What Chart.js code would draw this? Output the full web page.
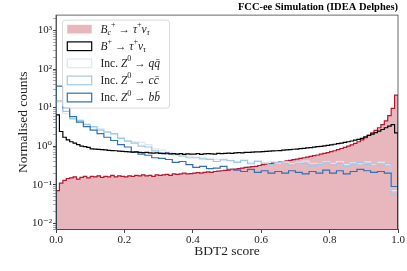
<!DOCTYPE html>
<html>
<head>
<meta charset="utf-8">
<script src="https://cdn.jsdelivr.net/npm/chart.js@4.4.0/dist/chart.umd.min.js"></script>
<style>
  body { margin: 0; background: #fff; }
  canvas { display: block; }
</style>
</head>
<body>
<canvas id="bdtChart" width="407" height="271"></canvas>
<script>
// BDT2 score histograms, normalised. Fine binning (0.01) for the two signal modes,
// coarse binning (0.02) for the inclusive Z0 samples.
const fineWidth = 0.01
const coarseWidth = 0.02

const bcTauNu = [
    0.07, 0.11, 0.13, 0.145, 0.15, 0.16, 0.14, 0.155, 0.165, 0.15,
    0.165, 0.16, 0.17, 0.155, 0.165, 0.16, 0.175, 0.16, 0.17, 0.165,
    0.16, 0.17, 0.165, 0.175, 0.17, 0.18, 0.17, 0.175, 0.165, 0.18,
    0.175, 0.18, 0.185, 0.175, 0.19, 0.185, 0.19, 0.2, 0.19, 0.195,
    0.2, 0.205, 0.2, 0.21, 0.215, 0.21, 0.22, 0.225, 0.23, 0.235,
    0.24, 0.25, 0.255, 0.26, 0.27, 0.28, 0.285, 0.295, 0.3, 0.315,
    0.33, 0.34, 0.35, 0.365, 0.375, 0.385, 0.4, 0.415, 0.43, 0.445,
    0.46, 0.48, 0.5, 0.52, 0.54, 0.57, 0.59, 0.62, 0.65, 0.68,
    0.72, 0.76, 0.81, 0.87, 0.93, 1.0, 1.08, 1.18, 1.3, 1.46,
    1.65, 1.9, 2.2, 2.55, 3.0, 3.6, 4.5, 6.2, 9.5, 21
]

const buTauNu = [
    6.5, 2.4, 1.7, 1.45, 1.3, 1.2, 1.1, 1.0, 0.97, 0.93,
    0.85, 0.84, 0.82, 0.81, 0.8, 0.78, 0.77, 0.76, 0.74, 0.73,
    0.72, 0.71, 0.7, 0.71, 0.69, 0.68, 0.69, 0.67, 0.66, 0.67,
    0.65, 0.64, 0.66, 0.63, 0.64, 0.62, 0.64, 0.61, 0.63, 0.62,
    0.62, 0.64, 0.61, 0.63, 0.64, 0.63, 0.62, 0.65, 0.64, 0.65,
    0.66, 0.65, 0.67, 0.68, 0.67, 0.69, 0.69, 0.7, 0.71, 0.71,
    0.72, 0.73, 0.74, 0.75, 0.76, 0.77, 0.79, 0.8, 0.81, 0.83,
    0.84, 0.86, 0.88, 0.9, 0.92, 0.94, 0.97, 0.99, 1.02, 1.05,
    1.08, 1.12, 1.16, 1.2, 1.25, 1.3, 1.36, 1.43, 1.5, 1.6,
    1.75, 1.9, 2.05, 2.25, 2.45, 2.7, 3.0, 3.3, 3.6, 2.2
]

const incZqq = [
    14, 7, 5, 4.8, 3.8, 3.0, 2.8, 2.4, 2.0, 1.7,
    1.4, 1.3, 1.25, 1.1, 0.85, 0.8, 0.7, 0.65, 0.62, 0.55,
    0.52, 0.5, 0.48, 0.45, 0.46, 0.43, 0.4, 0.44, 0.38, 0.42,
    0.37, 0.4, 0.36, 0.39, 0.35, 0.38, 0.41, 0.36, 0.34, 0.39,
    0.36, 0.4, 0.33, 0.37, 0.35, 0.39, 0.34, 0.38, 0.33, 0.07
]

const incZcc = [
    15, 8, 5.2, 4.6, 3.6, 3.2, 2.6, 2.3, 2.1, 1.6,
    1.35, 1.2, 1.0, 0.95, 0.75, 0.68, 0.62, 0.6, 0.55, 0.5,
    0.5, 0.47, 0.45, 0.4, 0.44, 0.42, 0.38, 0.42, 0.35, 0.4,
    0.36, 0.33, 0.38, 0.35, 0.32, 0.36, 0.34, 0.3, 0.33, 0.37,
    0.32, 0.35, 0.3, 0.34, 0.38, 0.33, 0.36, 0.31, 0.35, 0.055
]

const incZbb = [
    36, 10, 5.8, 4.2, 3.2, 2.6, 2.1, 1.7, 1.4, 1.1,
    0.95, 0.7, 0.62, 0.58, 0.5, 0.48, 0.45, 0.38, 0.4, 0.33,
    0.28, 0.3, 0.26, 0.27, 0.3, 0.25, 0.24, 0.22, 0.25, 0.21,
    0.23, 0.2, 0.22, 0.2, 0.23, 0.21, 0.19, 0.22, 0.2, 0.24,
    0.2, 0.23, 0.19, 0.22, 0.25, 0.23, 0.21, 0.22, 0.2, 0.09
]

const xTicks = [0, 0.2, 0.4, 0.6, 0.8, 1.0]
const yMin = 0.0069
const yMax = 2500

// legend entries as pieces of text: i = italic, sup / sub = raised / lowered
const legendItems = [
    { kind: 'fill', color: '#e8b7be', parts: [{t: 'B', i: 1}, {t: 'c', i: 1, sub: 1}, {t: '+', sup: 1}, {t: ' \u2192 '}, {t: '\u03c4', i: 1}, {t: '+', sup: 1}, {t: '\u03bd', i: 1}, {t: '\u03c4', i: 1, sub: 1}] },
    { kind: 'line', color: '#000000', parts: [{t: 'B', i: 1}, {t: '+', sup: 1}, {t: ' \u2192 '}, {t: '\u03c4', i: 1}, {t: '+', sup: 1}, {t: '\u03bd', i: 1}, {t: '\u03c4', i: 1, sub: 1}] },
    { kind: 'line', color: '#dbe8f5', parts: [{t: 'Inc. '}, {t: 'Z', i: 1}, {t: '0', sup: 1}, {t: ' \u2192 '}, {t: 'q', i: 1}, {t: 'q\u0304', i: 1}] },
    { kind: 'line', color: '#9dcae1', parts: [{t: 'Inc. '}, {t: 'Z', i: 1}, {t: '0', sup: 1}, {t: ' \u2192 '}, {t: 'c', i: 1}, {t: 'c\u0304', i: 1}] },
    { kind: 'line', color: '#3070b3', parts: [{t: 'Inc. '}, {t: 'Z', i: 1}, {t: '0', sup: 1}, {t: ' \u2192 '}, {t: 'b', i: 1}, {t: 'b\u0304', i: 1}] }
]

const serif = '"Liberation Serif", "DejaVu Serif", serif'
const baseline = 1e-4

// histogram outline: left edge of every bin, closing edge at 1.0, down to the baseline
const toSteps = (values, width) => {
    let pts = [{x: 0, y: baseline}]
    values.forEach(function (v, i) {
        pts.push({x: i * width, y: v})
    })
    pts.push({x: values.length * width, y: values[values.length - 1]})
    pts.push({x: values.length * width, y: baseline})
    return pts
}

const supers = {'-': '\u207b', '0': '\u2070', '1': '\u00b9', '2': '\u00b2', '3': '\u00b3', '4': '\u2074', '5': '\u2075', '6': '\u2076', '7': '\u2077', '8': '\u2078', '9': '\u2079'}
const isDecade = v => Math.abs(Math.log10(v) - Math.round(Math.log10(v))) < 1e-6

const drawRich = (ctx, parts, x, y, size) => {
    parts.forEach(function (p) {
        let fs = size
        let dy = 0
        if (p.sup) { fs = size * 0.7; dy = -size * 0.4 }
        if (p.sub) { fs = size * 0.7; dy = size * 0.25 }
        ctx.font = (p.i ? 'italic ' : '') + fs + 'px ' + serif
        ctx.fillText(p.t, x, y + dy)
        x += ctx.measureText(p.t).width
    })
}

const framePlugin = {
    id: 'frame',
    afterDatasetsDraw(chart) {
        const {ctx, chartArea: a} = chart
        ctx.save()
        ctx.strokeStyle = '#444'
        ctx.lineWidth = 0.8
        ctx.strokeRect(a.left, a.top, a.right - a.left, a.bottom - a.top)
        ctx.restore()
    }
}

const legendPlugin = {
    id: 'richLegend',
    afterDraw(chart) {
        const {ctx, chartArea: a} = chart
        const bx = a.left + 6.5, by = a.top + 5, bw = 107, bh = 88
        ctx.save()
        ctx.beginPath()
        ctx.roundRect(bx, by, bw, bh, 3)
        ctx.fillStyle = 'rgba(255,255,255,0.8)'
        ctx.fill()
        ctx.strokeStyle = '#d0d0d0'
        ctx.lineWidth = 0.8
        ctx.stroke()
        legendItems.forEach(function (item, i) {
            const cy = by + 9 + i * 17.1
            if (item.kind === 'fill') {
                ctx.fillStyle = item.color
                ctx.fillRect(bx + 4.8, cy - 4.3, 24.4, 8.7)
            } else {
                ctx.strokeStyle = item.color
                ctx.lineWidth = 1.2
                ctx.strokeRect(bx + 4.8, cy - 4.3, 24.4, 8.7)
            }
            ctx.fillStyle = '#222'
            ctx.textBaseline = 'middle'
            drawRich(ctx, item.parts, bx + 38, cy + 0.5, 11.5)
        })
        ctx.restore()
    }
}

const stepLine = (label, values, width, color, order, extra) => Object.assign({
    label: label,
    data: toSteps(values, width),
    borderColor: color,
    backgroundColor: color,
    borderWidth: 1.2,
    pointRadius: 0,
    stepped: true,
    fill: false,
    order: order
}, extra || {})

new Chart(document.getElementById('bdtChart'), {
    type: 'line',
    data: {
        datasets: [
            stepLine('B+ -> tau+ nu', buTauNu, fineWidth, '#000000', 0),
            stepLine('Inc. Z0 -> bb', incZbb, coarseWidth, '#3070b3', 1),
            stepLine('Inc. Z0 -> cc', incZcc, coarseWidth, '#9dcae1', 2),
            stepLine('Inc. Z0 -> qq', incZqq, coarseWidth, '#dbe8f5', 3),
            stepLine('Bc+ -> tau+ nu', bcTauNu, fineWidth, '#b8152f', 4, {fill: 'start', backgroundColor: '#e8b7be'})
        ]
    },
    options: {
        responsive: false,
        animation: false,
        devicePixelRatio: 1,
        layout: { padding: { left: 0, right: 9, top: 0, bottom: 0 } },
        plugins: {
            legend: { display: false },
            tooltip: { enabled: false },
            title: {
                display: true,
                text: 'FCC-ee Simulation (IDEA Delphes)',
                align: 'end',
                color: '#000',
                font: { family: serif, size: 10.5, weight: 'bold' },
                padding: { top: 1, bottom: 1.5 }
            }
        },
        scales: {
            x: {
                type: 'linear',
                min: 0,
                max: 1,
                afterBuildTicks: s => { s.ticks = xTicks.map(v => ({value: v})) },
                afterFit: s => { s.height = 41.5 },
                ticks: {
                    color: '#222',
                    font: { family: serif, size: 11 },
                    padding: 1,
                    maxRotation: 0,
                    callback: v => v.toFixed(1)
                },
                grid: { drawOnChartArea: false, tickLength: 3.5, tickColor: '#444' },
                border: { color: '#444', width: 0.8 },
                title: {
                    display: true,
                    text: 'BDT2 score',
                    color: '#222',
                    font: { family: serif, size: 13.5 },
                    padding: { top: 0, bottom: 11.5 }
                }
            },
            y: {
                type: 'logarithmic',
                min: yMin,
                max: yMax,
                afterBuildTicks: s => {
                    let t = []
                    for (let e = -3; e <= 3; e++) {
                        for (let m = 1; m <= 9; m++) {
                            const v = m * Math.pow(10, e)
                            if (v >= yMin && v <= yMax) t.push({value: v, major: m === 1})
                        }
                    }
                    s.ticks = t
                },
                afterFit: s => { s.width = 56 },
                ticks: {
                    color: '#222',
                    font: { family: serif, size: 11 },
                    padding: 1,
                    autoSkip: false,
                    callback: v => isDecade(v) ? '10' + String(Math.round(Math.log10(v))).split('').map(c => supers[c]).join('') : ''
                },
                grid: {
                    drawOnChartArea: false,
                    tickLength: 3,
                    tickColor: c => (c.tick && isDecade(c.tick.value)) ? '#444' : '#aaa'
                },
                border: { color: '#444', width: 0.8 },
                title: {
                    display: true,
                    text: 'Normalised counts',
                    color: '#222',
                    font: { family: serif, size: 13.5 },
                    padding: { top: 15, bottom: 0 }
                }
            }
        }
    },
    plugins: [framePlugin, legendPlugin]
})
</script>
</body>
</html>
